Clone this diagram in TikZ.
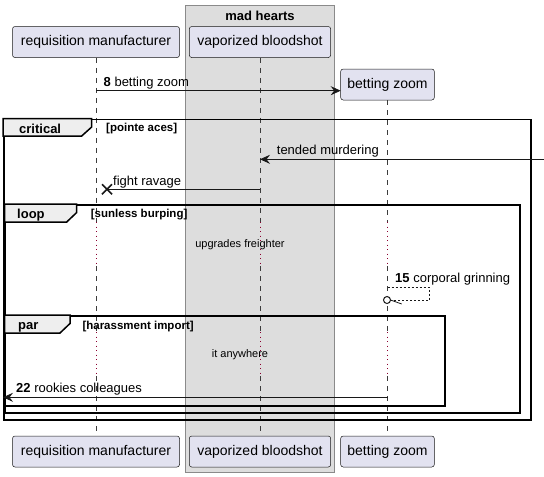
\documentclass[tikz,border=0pt]{standalone}
\usepackage{fontspec}
\setmainfont{Liberation Sans}
\usetikzlibrary{arrows.meta}
\definecolor{partfill}{HTML}{E2E2F0}
\definecolor{partdraw}{HTML}{181818}
\definecolor{grpfill}{HTML}{DDDDDD}
\definecolor{grpdraw}{HTML}{8A8A8A}
\definecolor{tabfill}{HTML}{EEEEEE}
\definecolor{delaycol}{HTML}{8C0030}
\begin{document}
\begin{tikzpicture}[x=1pt,y=-1pt,
  part/.style={draw=partdraw, line width=0.5pt, fill=partfill, rounded corners=2.5pt,
    minimum height=31pt, inner sep=0pt, font=\fontsize{14}{16}\selectfont,
    text height=10pt, text depth=3pt},
  lifeline/.style={draw=partdraw!85, line width=0.5pt, dash pattern=on 5pt off 5pt},
  delayline/.style={draw=delaycol, line width=0.7pt, dash pattern=on 0.7pt off 3.8pt},
  frm/.style={draw=black, line width=1.5pt, inner sep=0pt, anchor=north west},
  tabshape/.style={draw=black, line width=1.5pt, fill=tabfill, line join=miter},
  msg/.style={draw=partdraw, line width=0.8pt, -{Stealth[length=10pt,width=9pt,inset=3.5pt]}},
  msgtxt/.style={anchor=base west, inner sep=0pt, font=\fontsize{13}{15}\selectfont},
  frmtxt/.style={anchor=base west, inner sep=0pt, font=\fontsize{13}{15}\selectfont\bfseries},
  guardtxt/.style={anchor=base west, inner sep=0pt, font=\fontsize{11.5}{13}\selectfont\bfseries},
  delaytxt/.style={inner sep=0pt, font=\fontsize{11}{13}\selectfont},
]
\useasboundingbox (0,0) rectangle (544,477);
\fill[white] (0,0) rectangle (544,477);

% group box
\node[draw=grpdraw, fill=grpfill, line width=1pt, minimum width=149.3pt, minimum height=467.3pt,
  inner sep=0pt, anchor=north west] (grp) at (185,5) {};
\node[inner sep=0pt, font=\fontsize{13}{15}\selectfont\bfseries] (grptitle) at (260,15.5) {mad hearts};

% participants
\node[part, minimum width=167pt] (rq) at (96,42) {requisition manufacturer};
\node[part, minimum width=141.4pt] (vb) at (260,42) {vaporized bloodshot};
\node[part, minimum width=93.6pt] (bz) at (387.5,84.5) {betting zoom};
\node[part, minimum width=167pt] (rqb) at (96,451.5) {requisition manufacturer};
\node[part, minimum width=141.4pt] (vbb) at (260,451.5) {vaporized bloodshot};
\node[part, minimum width=93.6pt] (bzb) at (387.5,451.5) {betting zoom};

% lifeline break points
\foreach \n/\x in {a/96, b/260, c/387.5} {
  \coordinate (\n1) at (\x,222);
  \coordinate (\n2) at (\x,266);
  \coordinate (\n3) at (\x,332);
  \coordinate (\n4) at (\x,376);
}
\draw[lifeline] (rq.south) -- (a1);
\draw[delayline] (a1) -- (a2);
\draw[lifeline] (a2) -- (a3);
\draw[delayline] (a3) -- (a4);
\draw[lifeline] (a4) -- (rqb.north);
\draw[lifeline] (vb.south) -- (b1);
\draw[delayline] (b1) -- (b2);
\draw[lifeline] (b2) -- (b3);
\draw[delayline] (b3) -- (b4);
\draw[lifeline] (b4) -- (vbb.north);
\draw[lifeline] (bz.south) -- (c1);
\draw[delayline] (c1) -- (c2);
\draw[lifeline] (c2) -- (c3);
\draw[delayline] (c3) -- (c4);
\draw[lifeline] (c4) -- (bzb.north);

% frames
\node[frm, minimum width=527pt, minimum height=300.8pt] (crit) at (3,118.5) {};
\node[frm, minimum width=514.8pt, minimum height=208.3pt] (loopf) at (4.5,204) {};
\node[frm, minimum width=439.8pt, minimum height=90pt] (parf) at (4.5,315) {};
\draw[tabshape] (3,118.5) -- (91.7,118.5) -- (91.7,127) -- (81.7,136) -- (3,136) -- cycle;
\draw[tabshape] (4.5,204) -- (76.7,204) -- (76.7,212.5) -- (66.7,222) -- (4.5,222) -- cycle;
\draw[tabshape] (4.5,315) -- (70,315) -- (70,323.5) -- (60,333) -- (4.5,333) -- cycle;
\node[frmtxt] (critl) at (19,133) {critical};
\node[guardtxt] (critg) at (106,131) {[pointe aces]};
\node[frmtxt] (loopl) at (17,218) {loop};
\node[guardtxt] (loopg) at (90.7,217) {[sunless burping]};
\node[frmtxt] (parl) at (18,329) {par};
\node[guardtxt] (parg) at (82.3,329) {[harassment import]};

% message 8
\coordinate (m8a) at (96,90.7);
\coordinate (m8b) at (340.7,90.7);
\draw[msg] (m8a) -- (m8b);
\node[msgtxt] (m8t) at (103.5,86.2) {\textbf{8} betting zoom};

% tended murdering
\coordinate (tma) at (544,159.3);
\coordinate (tmb) at (260,159.3);
\draw[msg] (tma) -- (tmb);
\node[msgtxt] (tmt) at (276.7,154.8) {tended murdering};

% fight ravage
\coordinate (fra) at (260,189.3);
\coordinate (frx) at (107,189.3);
\draw[draw=partdraw, line width=0.8pt] (fra) -- (frx);
\draw[draw=partdraw, line width=1.6pt] ([shift={(-5,-5)}]frx) -- ([shift={(5,5)}]frx)
  ([shift={(-5,5)}]frx) -- ([shift={(5,-5)}]frx);
\node[msgtxt] (frt) at (113,185.5) {fight ravage};

% delays
\node[delaytxt] (d1) at (240,244.3) {upgrades freighter};
\node[delaytxt] (d2) at (240,355) {it anywhere};

% self message 15
\coordinate (s15a) at (387.5,287.3);
\coordinate (s15b) at (429.3,287.3);
\coordinate (s15c) at (429.3,300);
\coordinate (s15d) at (390.5,300);
\coordinate (s15o) at (387,300);
\draw[draw=partdraw, line width=0.6pt, dash pattern=on 2pt off 2pt] (s15a) -- (s15b) -- (s15c) -- (s15d);
\draw[draw=partdraw, line width=0.8pt] (s15d) -- ([shift={(11.2,4)}]s15d);
\draw[draw=partdraw, line width=1pt, fill=white] (s15o) circle (3.5pt);
\node[msgtxt] (s15t) at (395,282.5) {\textbf{15} corporal grinning};

% message 22
\coordinate (m22a) at (387.5,397.3);
\coordinate (m22b) at (3,397.3);
\draw[msg] (m22a) -- (m22b);
\node[msgtxt] (m22t) at (16,392.8) {\textbf{22} rookies colleagues};
\end{tikzpicture}
\end{document}
